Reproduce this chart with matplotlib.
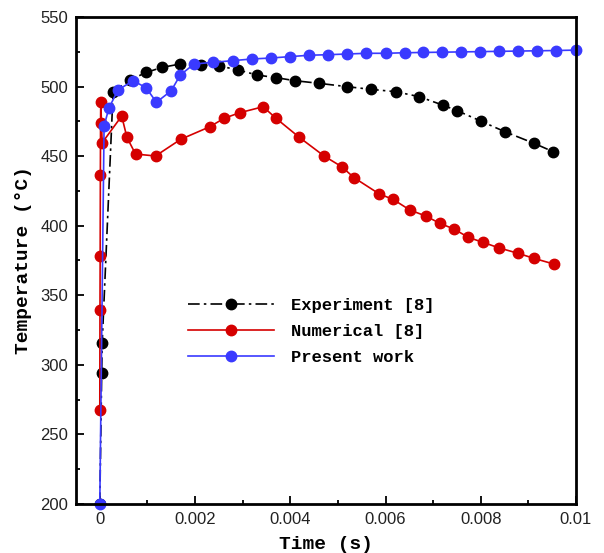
import matplotlib
matplotlib.use("Agg")
import matplotlib.pyplot as plt
from matplotlib.ticker import MultipleLocator, FixedLocator, FixedFormatter

# time in ms (converted to s below), temperature in deg C
exp_t = [0.0, 0.04, 0.05, 0.28, 0.63, 0.98, 1.31, 1.69, 2.12, 2.51, 2.91, 3.30,
         3.70, 4.10, 4.61, 5.20, 5.69, 6.22, 6.71, 7.20, 7.51, 8.00, 8.51, 9.12, 9.52]
exp_T = [200.0, 293.9, 315.4, 496.3, 504.7, 510.2, 513.8, 516.2, 515.5, 514.8, 511.9, 508.3,
         506.4, 504.2, 502.3, 499.9, 498.0, 496.3, 492.7, 486.7, 482.6, 475.2, 467.5, 459.2, 453.2]

num_t = [0.0, 0.004, 0.008, 0.012, 0.016, 0.02, 0.05, 0.46, 0.57, 0.75, 1.17, 1.70,
         2.31, 2.61, 2.94, 3.43, 3.70, 4.19, 4.71, 5.08, 5.34, 5.87, 6.16, 6.51, 6.85,
         7.14, 7.44, 7.74, 8.05, 8.38, 8.79, 9.12, 9.54]
num_T = [267.5, 339.4, 378.2, 436.4, 473.6, 489.1, 459.6, 478.8, 463.5, 451.5, 450.1, 462.1,
         471.1, 477.2, 481.2, 485.5, 477.2, 463.5, 450.1, 442.4, 434.5, 422.8, 418.9, 411.3, 406.9,
         401.7, 397.6, 391.6, 388.0, 384.1, 380.1, 376.5, 372.4]

pre_t = [0.0, 0.09, 0.19, 0.38, 0.70, 0.97, 1.19, 1.50, 1.69, 1.98, 2.38, 2.79, 3.19,
         3.59, 3.99, 4.40, 4.80, 5.20, 5.60, 6.01, 6.41, 6.79, 7.19, 7.58, 7.98, 8.38,
         8.78, 9.18, 9.58, 10.0]
pre_T = [200.0, 471.6, 484.4, 497.5, 504.2, 499.2, 488.7, 497.0, 508.3, 516.2, 517.4, 518.6, 519.8,
         520.5, 521.5, 522.5, 522.9, 523.4, 523.9, 523.9, 524.3, 524.5, 524.7, 524.9, 525.1, 525.3,
         525.5, 525.7, 525.9, 526.2]

x_ticks = [0, 0.002, 0.004, 0.006, 0.008, 0.01]
x_labels = ["0", "0.002", "0.004", "0.006", "0.008", "0.01"]

BLUE = "#3a3aff"
RED = "#d50000"

fig = plt.figure(figsize=(6.04, 5.53), dpi=100)
ax = fig.add_axes([0.1258, 0.0886, 0.8278, 0.8807])

ms = lambda v: [x / 1000 for x in v]

ax.plot(ms(exp_t), exp_T, color="black", lw=1.2, dashes=(7, 2.5, 1.5, 2.5),
        marker="o", ms=7.5, label="Experiment [8]")
ax.plot(ms(num_t), num_T, color=RED, lw=1.2, marker="o", ms=7.5, label="Numerical [8]")
ax.plot(ms(pre_t), pre_T, color=BLUE, lw=1.2, marker="o", ms=7.5, label="Present work",
        clip_on=False)

ax.set_xlim(-0.0005, 0.01)
ax.set_ylim(200, 550)

ax.xaxis.set_major_locator(FixedLocator(x_ticks))
ax.xaxis.set_major_formatter(FixedFormatter(x_labels))
ax.xaxis.set_minor_locator(MultipleLocator(0.001))
ax.yaxis.set_major_locator(MultipleLocator(50))
ax.yaxis.set_minor_locator(MultipleLocator(25))

ax.tick_params(which="both", direction="in", top=False, right=False,
               labelsize=12, width=1.3, pad=5.5)
ax.tick_params(which="major", length=6)
ax.tick_params(which="minor", length=3)
for lab in ax.get_xticklabels() + ax.get_yticklabels():
    lab.set_fontfamily("Liberation Sans")
    lab.set_color("#222222")

for s in ax.spines.values():
    s.set_linewidth(2)

ax.set_xlabel("Time (s)", family="Liberation Mono", weight="bold", fontsize=14,
              labelpad=7)
ax.set_ylabel("Temperature (°C)", family="Liberation Mono", weight="bold", fontsize=14,
              labelpad=6)

leg = ax.legend(loc="center left", bbox_to_anchor=(0.194, 0.355), frameon=False,
                prop={"family": "Liberation Mono", "weight": "bold", "size": 12.3},
                handlelength=5.0, handletextpad=1.0, labelspacing=0.65)

fig.savefig("out.png", dpi=100)
